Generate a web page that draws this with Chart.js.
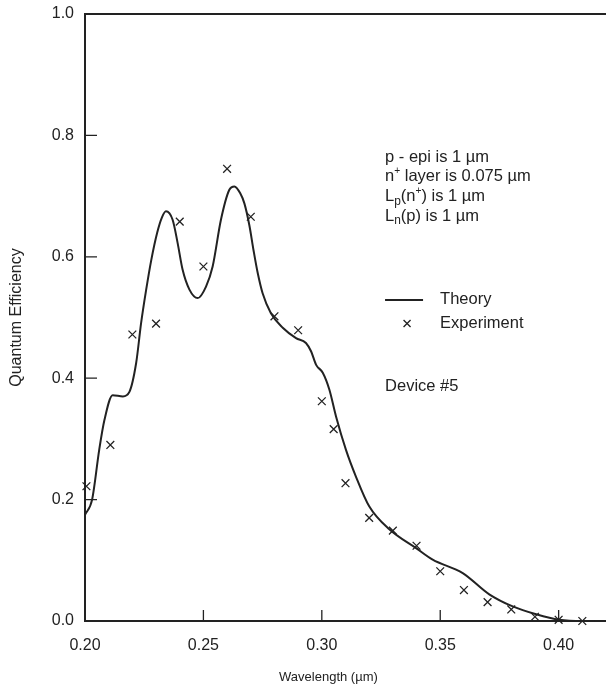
<!DOCTYPE html>
<html>
<head>
<meta charset="utf-8">
<script src="https://cdn.jsdelivr.net/npm/chart.js@4/dist/chart.umd.min.js"></script>
<style>
  html, body { margin: 0; padding: 0; background: #fff; }
  canvas { display: block; }
</style>
</head>
<body>
<canvas id="c" width="606" height="687"></canvas>
<script>
// ---- Data ----
const theoryX = [0.200,0.203,0.206,0.2082,0.2117,0.216,0.2187,0.2216,0.2237,0.2258,0.2280,0.2305,0.2325,0.2342,0.2370,0.2391,0.2412,0.2441,0.2476,0.2511,0.2539,0.2574,0.2609,0.2631,0.2655,0.2673,0.2694,0.2712,0.2730,0.2750,0.2785,0.2835,0.2891,0.2933,0.2955,0.2976,0.3004,0.3032,0.306,0.3102,0.3144,0.320,0.3285,0.3398,0.3468,0.3595,0.3707,0.3806,0.3905,0.4003,0.410,0.415];
const theoryY = [0.175,0.200,0.282,0.331,0.372,0.370,0.377,0.425,0.491,0.545,0.595,0.640,0.665,0.675,0.661,0.623,0.579,0.546,0.532,0.551,0.584,0.661,0.710,0.716,0.705,0.688,0.652,0.610,0.572,0.540,0.507,0.483,0.466,0.458,0.444,0.422,0.409,0.381,0.337,0.282,0.238,0.189,0.151,0.120,0.101,0.079,0.044,0.024,0.011,0.002,0.000,0.000];

const expX = [0.2006,0.2107,0.22,0.23,0.24,0.25,0.26,0.27,0.28,0.29,0.30,0.305,0.31,0.32,0.33,0.34,0.35,0.36,0.37,0.38,0.39,0.40,0.41];
const expY = [0.222,0.290,0.472,0.490,0.658,0.584,0.745,0.666,0.502,0.479,0.362,0.316,0.227,0.170,0.149,0.124,0.082,0.051,0.031,0.019,0.007,0.002,0.000];

const xTicks = [0.20,0.25,0.30,0.35,0.40];
const yTicks = [0.0,0.2,0.4,0.6,0.8,1.0];

const seriesNames = ['Theory','Experiment'];
const xTitle = 'Wavelength (\u00b5m)';
const yTitle = 'Quantum Efficiency';
const notes = [
  [{t:'p - epi is 1 \u00b5m'}],
  [{t:'n'},{t:'+',sup:true},{t:' layer is 0.075 \u00b5m'}],
  [{t:'L'},{t:'p',sub:true},{t:'(n'},{t:'+',sup:true},{t:') is 1 \u00b5m'}],
  [{t:'L'},{t:'n',sub:true},{t:'(p) is 1 \u00b5m'}]
];
const deviceLabel = 'Device #5';

const INK = '#222';
const FONT = '"Liberation Sans", Arial, Helvetica, sans-serif';

const theoryData = theoryX.map((x,i)=>({x, y: theoryY[i]}));
const expData = expX.map((x,i)=>({x, y: expY[i]}));

function drawRich(ctx, parts, x, y, size) {
  let cx = x;
  for (const p of parts) {
    let s = size, dy = 0;
    if (p.sub) { s = size*0.72; dy = size*0.28; }
    if (p.sup) { s = size*0.62; dy = -size*0.32; }
    ctx.font = s + 'px ' + FONT;
    ctx.fillText(p.t, cx, y + dy);
    cx += ctx.measureText(p.t).width;
  }
}

const decor = {
  id: 'decor',
  afterDraw(chart) {
    const {ctx, chartArea: a, scales: {x, y}} = chart;
    ctx.save();
    ctx.strokeStyle = INK;
    ctx.fillStyle = INK;
    // top frame line
    ctx.lineWidth = 2;
    ctx.beginPath();
    ctx.moveTo(a.left, a.top);
    ctx.lineTo(a.right, a.top);
    ctx.stroke();
    // inward ticks
    ctx.lineWidth = 1.3;
    ctx.beginPath();
    xTicks.slice(1).forEach(v => {
      const px = x.getPixelForValue(v);
      ctx.moveTo(px, a.bottom);
      ctx.lineTo(px, a.bottom - 11);
    });
    yTicks.slice(1, -1).forEach(v => {
      const py = y.getPixelForValue(v);
      ctx.moveTo(a.left, py);
      ctx.lineTo(a.left + 12, py);
    });
    ctx.stroke();

    // x-axis title (placed as in the reference, slightly left of centre)
    ctx.textBaseline = 'middle';
    ctx.textAlign = 'center';
    ctx.font = '13px ' + FONT;
    ctx.fillText(xTitle, x.getPixelForValue(0.3028), a.bottom + 56);

    // annotation block
    ctx.textAlign = 'left';
    const tx = x.getPixelForValue(0.3267);
    const ty0 = y.getPixelForValue(0.764);
    notes.forEach((line, i) => drawRich(ctx, line, tx, ty0 + i * 19.7, 16.5));

    // legend
    const ly1 = y.getPixelForValue(0.529);
    const ly2 = y.getPixelForValue(0.490);
    ctx.lineWidth = 2;
    ctx.beginPath();
    ctx.moveTo(tx, ly1);
    ctx.lineTo(tx + 38, ly1);
    ctx.stroke();
    ctx.font = '16.5px ' + FONT;
    ctx.fillText(seriesNames[0], tx + 55, ly1);
    ctx.fillText(seriesNames[1], tx + 55, ly2);
    // cross marker
    const mx = tx + 22, r = 3.5;
    ctx.lineWidth = 1.3;
    ctx.beginPath();
    ctx.moveTo(mx - r, ly2 - r); ctx.lineTo(mx + r, ly2 + r);
    ctx.moveTo(mx - r, ly2 + r); ctx.lineTo(mx + r, ly2 - r);
    ctx.stroke();

    ctx.font = '16.5px ' + FONT;
    ctx.fillText(deviceLabel, tx, y.getPixelForValue(0.386));
    ctx.restore();
  }
};

new Chart(document.getElementById('c'), {
  data: {
    datasets: [
      {
        type: 'line',
        label: seriesNames[0],
        data: theoryData,
        borderColor: INK,
        borderWidth: 2,
        pointRadius: 0,
        cubicInterpolationMode: 'monotone',
        fill: false,
        clip: false
      },
      {
        type: 'scatter',
        label: seriesNames[1],
        data: expData,
        pointStyle: 'crossRot',
        pointRadius: 5.5,
        borderColor: INK,
        borderWidth: 1.3,
        backgroundColor: INK,
        clip: false
      }
    ]
  },
  options: {
    responsive: false,
    animation: false,
    devicePixelRatio: 1,
    layout: { autoPadding: false, padding: { top: 14, right: 0, left: 0, bottom: 0 } },
    plugins: { legend: { display: false }, tooltip: { enabled: false } },
    scales: {
      x: {
        type: 'linear',
        min: 0.2, max: 0.42,
        afterBuildTicks: s => { s.ticks = xTicks.map(v => ({value: v})); },
        afterFit: s => { s.height = 66; s.paddingLeft = 0; s.paddingRight = 0; },
        ticks: {
          callback: v => v.toFixed(2),
          color: INK,
          padding: 15,
          maxRotation: 0,
          autoSkip: false,
          font: { family: FONT, size: 16 }
        },
        grid: { display: false, drawTicks: false },
        border: { display: true, color: INK, width: 2 },
        title: { display: false, text: xTitle }
      },
      y: {
        type: 'linear',
        min: 0, max: 1,
        afterBuildTicks: s => { s.ticks = yTicks.map(v => ({value: v})); },
        afterFit: s => { s.width = 85; s.paddingTop = 0; s.paddingBottom = 0; },
        ticks: {
          callback: v => v.toFixed(1),
          color: INK,
          padding: 11,
          font: { family: FONT, size: 16 }
        },
        grid: { display: false, drawTicks: false },
        border: { display: true, color: INK, width: 2 },
        title: {
          display: true, text: yTitle, color: INK,
          font: { family: FONT, size: 16 },
          padding: { top: 7, bottom: 0 }
        }
      }
    }
  },
  plugins: [decor]
});
</script>
</body>
</html>
